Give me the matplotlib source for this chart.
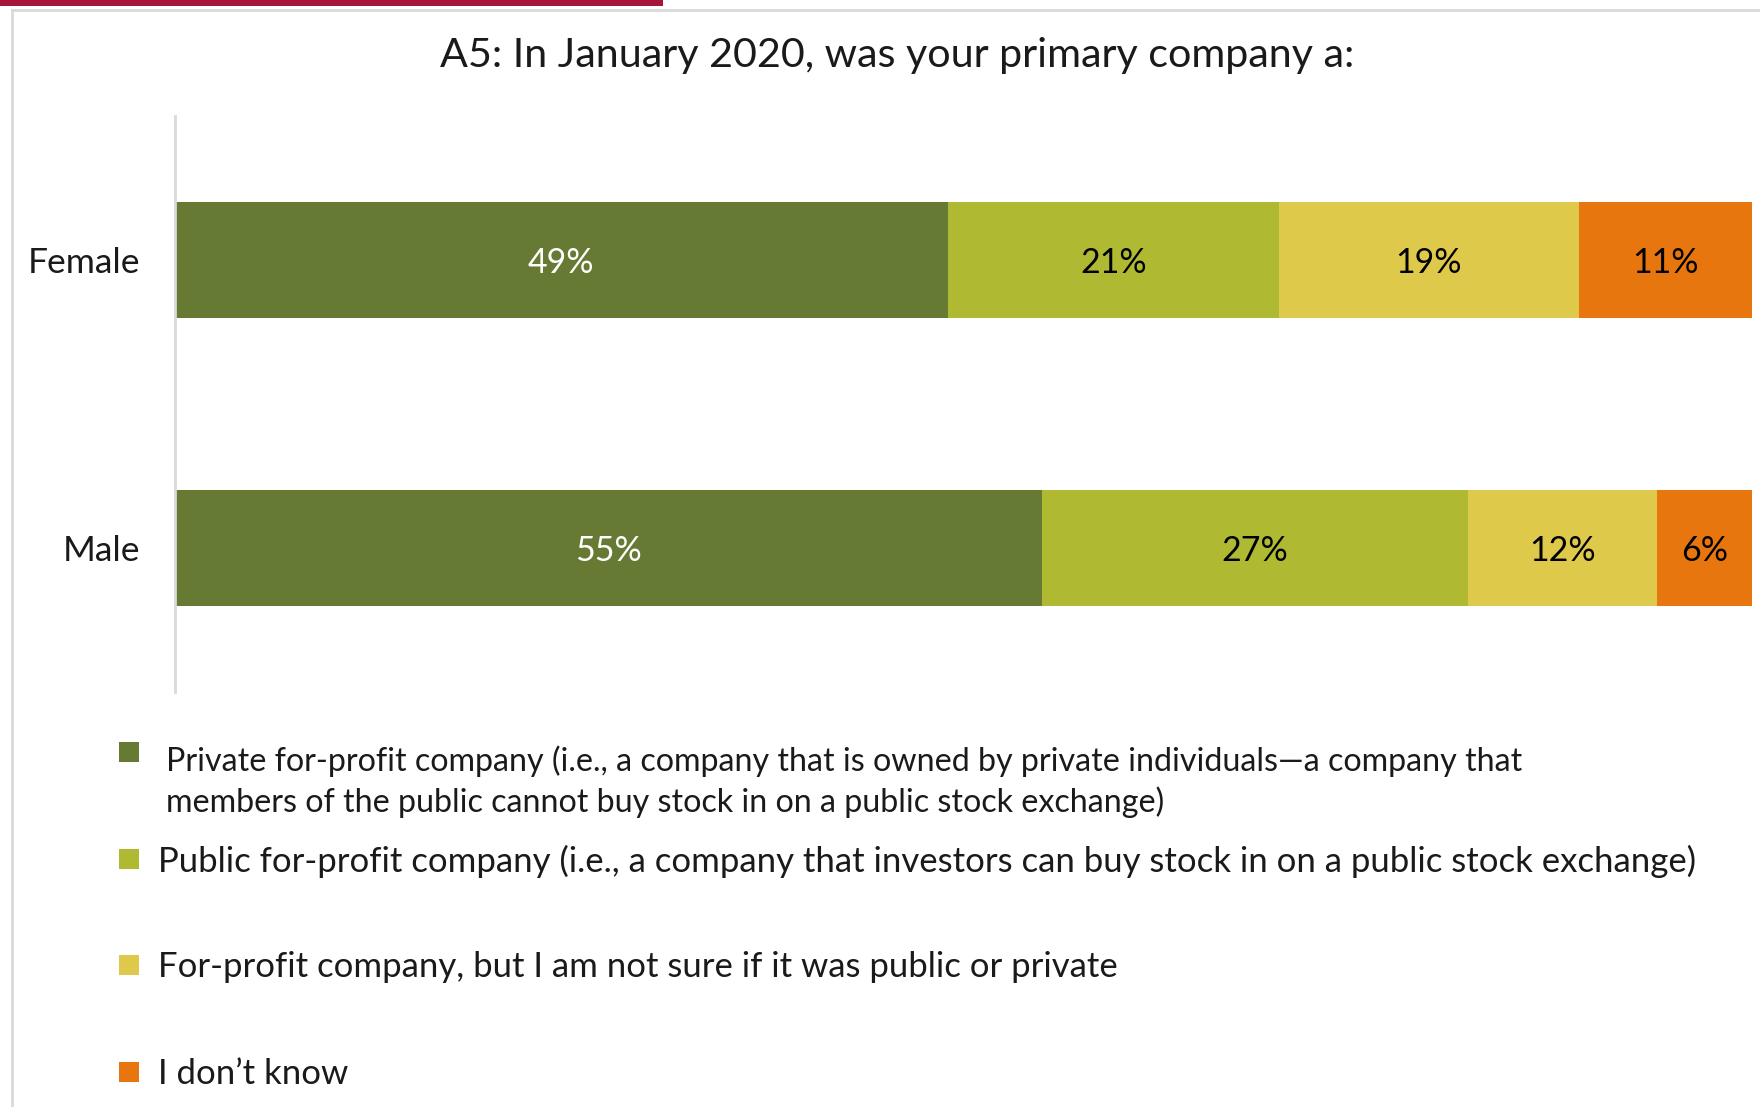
import matplotlib
matplotlib.use("Agg")
import matplotlib.pyplot as plt
from matplotlib.patches import Rectangle
from matplotlib.lines import Line2D

categories = ["Female", "Male"]
series_names = [
    "Private for-profit company (i.e., a company that is owned by private individuals\u2014a company that\nmembers of the public cannot buy stock in on a public stock exchange)",
    "Public for-profit company (i.e., a company that investors can buy stock in on a public stock exchange)",
    "For-profit company, but I am not sure if it was public or private",
    "I don\u2019t know",
]
private_vals = [49, 55]
public_vals = [21, 27]
unsure_vals = [19, 12]
dontknow_vals = [11, 6]
series_values = [private_vals, public_vals, unsure_vals, dontknow_vals]
colors = ["#667A33", "#AFBA32", "#DFC94A", "#E8760F"]
label_colors = ["white", "black", "black", "black"]
title = "A5: In January 2020, was your primary company a:"

FONT = ["Lato", "DejaVu Sans"]
plt.rcParams["font.family"] = FONT

W, H = 1760, 1107
fig = plt.figure(figsize=(W / 100, H / 100), dpi=100)

def fx(x):
    return x / W

def fy(y):
    return 1 - y / H

# decorative frame
fig.add_artist(Rectangle((0, fy(6)), fx(663), 6 / H, transform=fig.transFigure,
                         color="#A6153A", lw=0))
fig.add_artist(Line2D([fx(12), 1], [fy(10), fy(10)], transform=fig.transFigure,
                      color="#D9D9D9", lw=2))
fig.add_artist(Line2D([fx(12), fx(12)], [fy(10), 0], transform=fig.transFigure,
                      color="#D9D9D9", lw=2))

ax = fig.add_axes([fx(175), fy(692), fx(1752) - fx(175), (692 - 116) / H])
ypos = list(range(len(categories)))
left = [0] * len(categories)
for vals, col, lc in zip(series_values, colors, label_colors):
    bars = ax.barh(ypos, vals, left=left, height=0.4, color=col, edgecolor="none")
    for b, v in zip(bars, vals):
        ax.text(b.get_x() + b.get_width() / 2, b.get_y() + b.get_height() / 2,
                f"{v}%", ha="center", va="center_baseline", color=lc, fontsize=24.5)
    left = [l + v for l, v in zip(left, vals)]

ax.set_xlim(0, 100)
ax.set_ylim(1.5, -0.5)
ax.set_yticks(ypos)
ax.set_yticklabels(categories, fontsize=25.5, color="#1a1a1a")
ax.tick_params(axis="y", length=0, pad=25)
ax.set_xticks([])
for s in ["top", "right", "bottom"]:
    ax.spines[s].set_visible(False)
ax.spines["left"].set_color("#D9D9D9")
ax.spines["left"].set_linewidth(2)

fig.text(fx(897), fy(56), title, ha="center", va="center", fontsize=29.7, color="#1a1a1a")

# legend
legend_marker_y = [752, 859, 965, 1072]
legend_text_y = [780, 859, 965, 1072]
legend_text_x = [166, 158, 158, 158]
legend_sizes = [23.2, 25, 25, 25]
for name, col, my, ty, tx, fs in zip(series_names, colors, legend_marker_y, legend_text_y,
                                     legend_text_x, legend_sizes):
    fig.add_artist(Rectangle((fx(119), fy(my + 10)), fx(20), 20 / H,
                             transform=fig.transFigure, color=col, lw=0))
    fig.text(fx(tx), fy(ty + 2), name, ha="left", va="center", fontsize=fs,
             color="#1a1a1a", linespacing=1.37)

fig.savefig("out.png", dpi=100, facecolor="white")
